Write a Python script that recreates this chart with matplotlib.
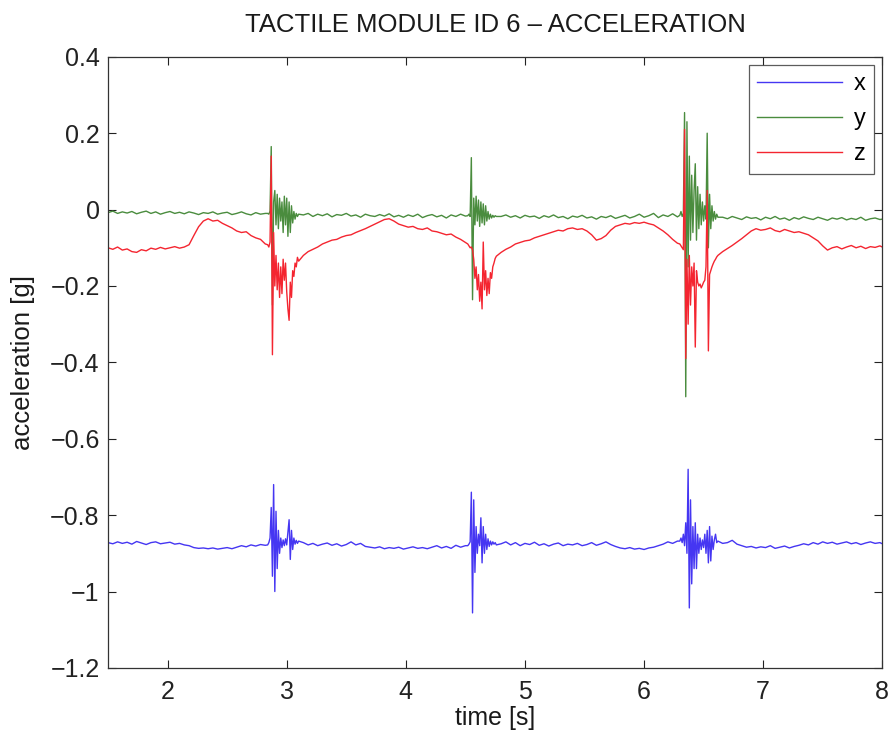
import matplotlib
matplotlib.use("Agg")
import matplotlib.pyplot as plt
import numpy as np

plt.rcParams['font.family'] = ['Liberation Sans', 'DejaVu Sans']

# ---------------- data (time in s, acceleration in g) ----------------
t_a = [1.50, 1.54, 1.58, 1.62, 1.66, 1.70, 1.74, 1.78, 1.82, 1.86, 1.90, 1.94, 1.98, 2.02, 2.06, 2.10, 2.14,
       2.18, 2.22, 2.26, 2.30, 2.34, 2.38, 2.42, 2.46, 2.50, 2.54, 2.58, 2.62, 2.66, 2.70, 2.74, 2.78, 2.82]
t_b1 = [2.84, 2.85, 2.86, 2.87, 2.88, 2.89, 2.90, 2.91, 2.92, 2.93, 2.94, 2.95, 2.96, 2.97, 2.98, 2.99,
        3.00, 3.01, 3.02, 3.03, 3.04, 3.05, 3.06, 3.07, 3.08, 3.09, 3.10]
t_b = [3.14, 3.18, 3.22, 3.26, 3.30, 3.34, 3.38, 3.42, 3.46, 3.50, 3.54, 3.58, 3.62, 3.66, 3.70, 3.74, 3.78,
       3.82, 3.86, 3.90, 3.94, 3.98, 4.02, 4.06, 4.10, 4.14, 4.18, 4.22, 4.26, 4.30, 4.34, 4.38, 4.42, 4.46, 4.50]
t_b2 = [4.52, 4.53, 4.54, 4.55, 4.56, 4.57, 4.58, 4.59, 4.60, 4.61, 4.62, 4.63, 4.64, 4.65, 4.66, 4.67,
        4.68, 4.69, 4.70, 4.71, 4.72, 4.73, 4.74, 4.75, 4.76]
t_c = [4.80, 4.84, 4.88, 4.92, 4.96, 5.00, 5.04, 5.08, 5.12, 5.16, 5.20, 5.24, 5.28, 5.32, 5.36, 5.40, 5.44,
       5.48, 5.52, 5.56, 5.60, 5.64, 5.68, 5.72, 5.76, 5.80, 5.84, 5.88, 5.92, 5.96, 6.00, 6.04, 6.08, 6.12,
       6.16, 6.20, 6.24, 6.28]
t_b3 = [6.30, 6.31, 6.32, 6.33, 6.34, 6.35, 6.36, 6.37, 6.38, 6.39, 6.40, 6.41, 6.42, 6.43, 6.44, 6.45,
        6.46, 6.47, 6.48, 6.49, 6.50, 6.51, 6.52, 6.53, 6.54, 6.55, 6.56, 6.57, 6.58, 6.59, 6.60, 6.61, 6.62]
t_d = [6.66, 6.70, 6.74, 6.78, 6.82, 6.86, 6.90, 6.94, 6.98, 7.02, 7.06, 7.10, 7.14, 7.18, 7.22, 7.26, 7.30,
       7.34, 7.38, 7.42, 7.46, 7.50, 7.54, 7.58, 7.62, 7.66, 7.70, 7.74, 7.78, 7.82, 7.86, 7.90, 7.94, 7.98, 8.00]

x_a = [-0.872, -0.875, -0.870, -0.874, -0.871, -0.876, -0.869, -0.873, -0.877, -0.872, -0.870, -0.875,
       -0.873, -0.871, -0.876, -0.874, -0.878, -0.880, -0.885, -0.887, -0.886, -0.888, -0.886, -0.889,
       -0.887, -0.885, -0.888, -0.884, -0.880, -0.883, -0.878, -0.881, -0.877, -0.879]
x_b1 = [-0.878, -0.872, -0.860, -0.780, -0.960, -0.720, -1.000, -0.790, -0.940, -0.840, -0.900, -0.860,
        -0.885, -0.865, -0.880, -0.862, -0.878, -0.845, -0.812, -0.916, -0.840, -0.890, -0.860, -0.876,
        -0.866, -0.874, -0.868]
x_b = [-0.872, -0.878, -0.874, -0.880, -0.876, -0.873, -0.879, -0.875, -0.881, -0.877, -0.870, -0.878,
       -0.874, -0.882, -0.884, -0.886, -0.883, -0.888, -0.885, -0.887, -0.884, -0.889, -0.886, -0.883,
       -0.887, -0.885, -0.888, -0.884, -0.880, -0.886, -0.882, -0.887, -0.879, -0.884, -0.880]
x_b2 = [-0.880, -0.876, -0.870, -0.740, -1.056, -0.760, -0.950, -0.830, -0.900, -0.850, -0.880, -0.807,
        -0.925, -0.830, -0.900, -0.850, -0.890, -0.862, -0.882, -0.868, -0.878, -0.870, -0.876, -0.872, -0.878]
x_c = [-0.875, -0.870, -0.878, -0.872, -0.880, -0.874, -0.877, -0.871, -0.879, -0.875, -0.881, -0.876,
       -0.873, -0.880, -0.876, -0.878, -0.874, -0.880, -0.877, -0.872, -0.879, -0.875, -0.870, -0.877,
       -0.882, -0.886, -0.888, -0.885, -0.889, -0.887, -0.890, -0.886, -0.884, -0.880, -0.876, -0.870,
       -0.874, -0.868]
x_b3 = [-0.868, -0.860, -0.872, -0.850, -0.880, -0.820, -0.900, -0.680, -1.043, -0.760, -0.980, -0.830,
        -0.940, -0.820, -0.940, -0.850, -0.900, -0.860, -0.890, -0.865, -0.885, -0.850, -0.900, -0.840,
        -0.925, -0.830, -0.920, -0.855, -0.890, -0.865, -0.850, -0.872, -0.868]
x_d = [-0.874, -0.872, -0.866, -0.876, -0.880, -0.884, -0.882, -0.886, -0.883, -0.885, -0.880, -0.887,
       -0.884, -0.881, -0.886, -0.882, -0.879, -0.875, -0.878, -0.872, -0.876, -0.870, -0.874, -0.871,
       -0.876, -0.873, -0.870, -0.875, -0.872, -0.877, -0.873, -0.870, -0.874, -0.872, -0.875]

y_a = [-0.008, -0.004, -0.010, -0.006, -0.009, -0.005, -0.011, -0.007, -0.004, -0.010, -0.006, -0.012,
       -0.008, -0.005, -0.010, -0.007, -0.011, -0.006, -0.009, -0.013, -0.008, -0.010, -0.006, -0.012,
       -0.009, -0.007, -0.013, -0.010, -0.006, -0.011, -0.014, -0.008, -0.012, -0.010]
y_b1 = [-0.010, -0.012, -0.004, 0.165, -0.250, 0.020, 0.050, -0.040, 0.040, -0.050, 0.030, -0.030,
        0.020, -0.060, 0.035, -0.040, 0.030, -0.070, 0.020, -0.060, 0.010, -0.035, -0.005, -0.025,
        -0.010, -0.018, -0.012]
y_b = [-0.014, -0.010, -0.018, -0.012, -0.016, -0.011, -0.019, -0.013, -0.015, -0.010, -0.017, -0.014,
       -0.020, -0.012, -0.016, -0.018, -0.013, -0.017, -0.011, -0.019, -0.015, -0.020, -0.014, -0.018,
       -0.012, -0.021, -0.016, -0.013, -0.019, -0.015, -0.022, -0.014, -0.018, -0.012, -0.017]
y_b2 = [-0.016, -0.012, -0.018, 0.136, -0.236, 0.030, -0.040, 0.035, -0.030, 0.025, -0.044, 0.020,
        -0.035, 0.015, -0.040, 0.010, -0.030, -0.005, -0.025, -0.012, -0.022, -0.015, -0.020, -0.016, -0.018]
y_c = [-0.018, -0.014, -0.020, -0.016, -0.022, -0.015, -0.019, -0.017, -0.023, -0.016, -0.020, -0.014,
       -0.021, -0.018, -0.024, -0.017, -0.020, -0.015, -0.022, -0.019, -0.025, -0.018, -0.021, -0.016,
       -0.023, -0.019, -0.015, -0.022, -0.018, -0.012, -0.020, -0.016, -0.010, -0.021, -0.014, -0.018,
       -0.011, -0.019]
y_b3 = [-0.015, -0.005, -0.018, -0.010, 0.254, -0.490, 0.230, -0.150, 0.140, -0.080, 0.090, -0.060,
        0.050, 0.120, -0.080, 0.060, -0.050, 0.040, -0.040, 0.020, -0.030, 0.010, -0.025, 0.200,
        -0.100, 0.040, -0.050, 0.010, -0.030, -0.005, -0.025, -0.012, -0.020]
y_d = [-0.020, -0.024, -0.018, -0.022, -0.026, -0.019, -0.023, -0.021, -0.027, -0.020, -0.024, -0.018,
       -0.025, -0.022, -0.028, -0.021, -0.025, -0.019, -0.023, -0.026, -0.020, -0.024, -0.028, -0.022,
       -0.025, -0.021, -0.027, -0.023, -0.026, -0.020, -0.028, -0.024, -0.022, -0.026, -0.025]

z_a = [-0.100, -0.104, -0.098, -0.106, -0.103, -0.110, -0.112, -0.105, -0.108, -0.101, -0.104, -0.099,
       -0.103, -0.100, -0.097, -0.101, -0.098, -0.092, -0.068, -0.045, -0.030, -0.024, -0.030, -0.028,
       -0.036, -0.042, -0.048, -0.056, -0.060, -0.058, -0.068, -0.074, -0.078, -0.090]
z_b1 = [-0.092, -0.098, -0.085, 0.140, -0.380, -0.060, -0.200, -0.120, -0.210, -0.140, -0.230, -0.150,
        -0.220, -0.130, -0.185, -0.140, -0.215, -0.260, -0.290, -0.190, -0.230, -0.160, -0.175, -0.140,
        -0.150, -0.125, -0.135]
z_b = [-0.120, -0.110, -0.104, -0.098, -0.090, -0.085, -0.080, -0.078, -0.072, -0.068, -0.066, -0.060,
       -0.055, -0.050, -0.044, -0.038, -0.032, -0.026, -0.024, -0.030, -0.038, -0.042, -0.046, -0.044,
       -0.050, -0.052, -0.048, -0.056, -0.058, -0.062, -0.066, -0.064, -0.072, -0.078, -0.086]
z_b2 = [-0.090, -0.095, -0.100, -0.098, -0.105, -0.130, -0.180, -0.150, -0.210, -0.170, -0.240, -0.190,
        -0.260, -0.085, -0.210, -0.160, -0.225, -0.180, -0.220, -0.165, -0.180, -0.150, -0.140, -0.128, -0.122]
z_c = [-0.112, -0.104, -0.098, -0.090, -0.086, -0.082, -0.080, -0.074, -0.070, -0.066, -0.062, -0.058,
       -0.054, -0.056, -0.050, -0.048, -0.052, -0.050, -0.056, -0.066, -0.080, -0.076, -0.068, -0.054,
       -0.044, -0.040, -0.036, -0.038, -0.034, -0.036, -0.033, -0.037, -0.040, -0.048, -0.056, -0.066,
       -0.078, -0.088]
z_b3 = [-0.090, -0.095, -0.100, -0.105, 0.210, -0.390, -0.130, -0.300, -0.120, -0.250, -0.150, -0.200,
        -0.140, -0.360, -0.160, -0.190, -0.200, -0.195, -0.205, -0.198, -0.190, -0.185, -0.150, 0.050,
        -0.370, -0.170, -0.160, -0.150, -0.142, -0.135, -0.130, -0.124, -0.120]
z_d = [-0.110, -0.102, -0.094, -0.085, -0.076, -0.066, -0.056, -0.050, -0.054, -0.052, -0.048, -0.055,
       -0.058, -0.052, -0.056, -0.060, -0.058, -0.062, -0.066, -0.074, -0.082, -0.095, -0.106, -0.100,
       -0.097, -0.103, -0.098, -0.094, -0.100, -0.096, -0.102, -0.097, -0.099, -0.095, -0.098]

series_labels = ['x', 'y', 'z']
series_colors = ['#4536f2', '#4a8c3e', '#f42530']

time = t_a + t_b1 + t_b + t_b2 + t_c + t_b3 + t_d
acc_x = x_a + x_b1 + x_b + x_b2 + x_c + x_b3 + x_d
acc_y = y_a + y_b1 + y_b + y_b2 + y_c + y_b3 + y_d
acc_z = z_a + z_b1 + z_b + z_b2 + z_c + z_b3 + z_d

xticks = [2, 3, 4, 5, 6, 7, 8]
yticks = [-1.2, -1.0, -0.8, -0.6, -0.4, -0.2, 0.0, 0.2, 0.4]
ytick_labels = ['\u22121.2', '\u22121', '\u22120.8', '\u22120.6', '\u22120.4', '\u22120.2', '0', '0.2', '0.4']

# ---------------- figure ----------------
fig = plt.figure(figsize=(8.93, 7.38), dpi=100)
ax = fig.add_axes([0.121, 0.095, 0.867, 0.828])

for vals, lab, col in zip([acc_x, acc_y, acc_z], series_labels, series_colors):
    ax.plot(time, vals, color=col, lw=1.0, label=lab)

ax.set_xlim(1.5, 8)
ax.set_ylim(-1.2, 0.4)
ax.set_xticks(xticks)
ax.set_xticklabels([str(v) for v in xticks])
ax.set_yticks(yticks)
ax.set_yticklabels(ytick_labels)
ax.tick_params(direction='in', length=6, width=0.8, top=True, right=True,
               labelsize=18, colors='#222222')
ax.tick_params(axis='y', pad=6)
ax.tick_params(axis='x', pad=9)
for s in ax.spines.values():
    s.set_linewidth(0.9)
    s.set_color('#333333')

ax.set_title('TACTILE MODULE ID 6 \u2013 ACCELERATION', fontsize=18.5, color='#1a1a1a', pad=18)
ax.set_xlabel('time [s]', fontsize=18, color='#1a1a1a', labelpad=1)
ax.set_ylabel('acceleration [g]', fontsize=18.5, color='#1a1a1a', labelpad=11)

leg = ax.legend(loc='upper right', fontsize=17, frameon=True, fancybox=False,
                edgecolor='#333333', handlelength=3.6, labelspacing=0.55,
                borderaxespad=0.35, handletextpad=0.5, borderpad=0.35)
leg.get_frame().set_linewidth(0.9)

fig.savefig('out.png', dpi=100)
